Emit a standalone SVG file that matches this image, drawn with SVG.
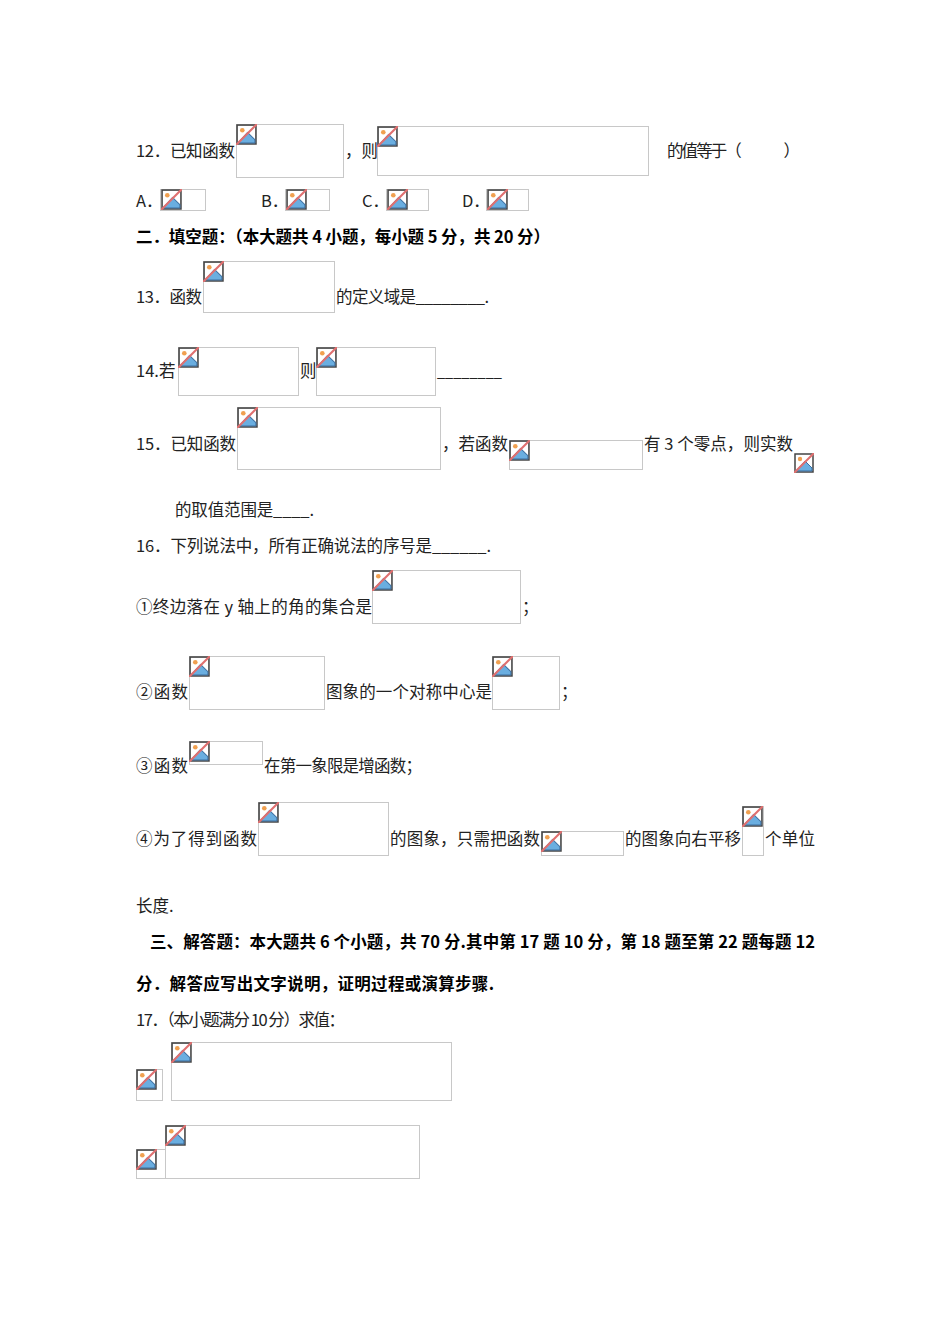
<svg xmlns="http://www.w3.org/2000/svg" xmlns:xlink="http://www.w3.org/1999/xlink" width="950" height="1344" viewBox="0 0 950 1344">
<style>
text{font-family:"Noto Sans CJK SC","Liberation Serif",serif;font-size:16.5px;fill:#222}
.b{font-weight:bold;fill:#000}
.box{fill:none;stroke:#c8c8c8;stroke-width:1}
</style>
<defs>
<symbol id="ic" viewBox="0 0 20 20">
<rect x="1" y="1" width="18" height="18" fill="#fff" stroke="#444" stroke-width="1.5"/>
<circle cx="6" cy="6" r="2.2" fill="#f0a050"/>
<path d="M2 18 L11 8 L18 15 L18 18 Z" fill="#6aaee0" stroke="#3a6ea0" stroke-width="1"/>
<line x1="0" y1="20" x2="20" y2="0" stroke="#e07070" stroke-width="2"/>
</symbol>
</defs>
<rect width="950" height="1344" fill="#fff"/>
<g id="q12">
<text x="136" y="157" textLength="99" lengthAdjust="spacing">12．已知函数</text>
<rect class="box" x="236.5" y="124.5" width="107" height="53"/><use href="#ic" x="236" y="124" width="21" height="21"/>
<text x="345" y="157">，则</text>
<rect class="box" x="377.5" y="126.5" width="271" height="49"/><use href="#ic" x="377" y="126" width="21" height="21"/>
<text x="667" y="157" textLength="133" lengthAdjust="spacing">的值等于（　　　）</text>
<text x="136" y="207">A．</text><rect class="box" x="160.5" y="189.5" width="45" height="21"/><use href="#ic" x="161" y="189" width="21" height="21"/>
<text x="261" y="207">B．</text><rect class="box" x="285.5" y="189.5" width="44" height="21"/><use href="#ic" x="286" y="189" width="21" height="21"/>
<text x="362" y="207">C．</text><rect class="box" x="386.5" y="189.5" width="42" height="21"/><use href="#ic" x="387" y="189" width="21" height="21"/>
<text x="462" y="207">D．</text><rect class="box" x="486.5" y="189.5" width="42" height="21"/><use href="#ic" x="487" y="189" width="21" height="21"/>
</g>
<g id="sec2"><text class="b" x="136" y="243" textLength="414" lengthAdjust="spacing">二．填空题：（本大题共 4 小题，每小题 5 分，共 20 分）</text></g>
<g id="q13">
<text x="136" y="303" textLength="66" lengthAdjust="spacing">13．函数</text>
<rect class="box" x="203.5" y="261.5" width="131" height="51"/><use href="#ic" x="203" y="261" width="21" height="21"/>
<text x="336" y="303" textLength="153" lengthAdjust="spacing">的定义域是________.</text>
</g>
<g id="q14">
<text x="136" y="377">14.若</text>
<rect class="box" x="178.5" y="347.5" width="120" height="48"/><use href="#ic" x="178" y="347" width="21" height="21"/>
<text x="300" y="377">则</text>
<rect class="box" x="316.5" y="347.5" width="119" height="48"/><use href="#ic" x="316" y="347" width="21" height="21"/>
<text x="437" y="377" textLength="65" lengthAdjust="spacingAndGlyphs">________</text>
</g>
<g id="q15">
<text x="136" y="450" textLength="100" lengthAdjust="spacing">15．已知函数</text>
<rect class="box" x="237.5" y="407.5" width="203" height="62"/><use href="#ic" x="237" y="407" width="21" height="21"/>
<text x="442" y="450" textLength="66" lengthAdjust="spacing">，若函数</text>
<rect class="box" x="509.5" y="440.5" width="133" height="29"/><use href="#ic" x="509" y="440" width="21" height="21"/>
<text x="644" y="450" textLength="149" lengthAdjust="spacing">有 3 个零点，则实数</text>
<use href="#ic" x="794" y="453" width="20" height="20"/>
<text x="175" y="516" textLength="139" lengthAdjust="spacing">的取值范围是____.</text>
</g>
<g id="q16">
<text x="136" y="552" textLength="355" lengthAdjust="spacing">16．下列说法中，所有正确说法的序号是______.</text>
<text x="136" y="613" textLength="236" lengthAdjust="spacing">①终边落在 y 轴上的角的集合是</text>
<rect class="box" x="372.5" y="570.5" width="148" height="53"/><use href="#ic" x="372" y="570" width="21" height="21"/>
<text x="522" y="613">；</text>
<text x="136" y="698" textLength="52" lengthAdjust="spacing">②函数</text>
<rect class="box" x="189.5" y="656.5" width="135" height="53"/><use href="#ic" x="189" y="656" width="21" height="21"/>
<text x="326" y="698" textLength="166" lengthAdjust="spacing">图象的一个对称中心是</text>
<rect class="box" x="492.5" y="656.5" width="67" height="53"/><use href="#ic" x="492" y="656" width="21" height="21"/>
<text x="561" y="698">；</text>
<text x="136" y="772" textLength="52" lengthAdjust="spacing">③函数</text>
<rect class="box" x="189.5" y="741.5" width="73" height="23"/><use href="#ic" x="189" y="741" width="21" height="21"/>
<text x="264" y="772" textLength="158" lengthAdjust="spacing">在第一象限是增函数；</text>
<text x="136" y="845" textLength="121" lengthAdjust="spacing">④为了得到函数</text>
<rect class="box" x="258.5" y="802.5" width="130" height="53"/><use href="#ic" x="258" y="802" width="21" height="21"/>
<text x="390" y="845" textLength="150" lengthAdjust="spacing">的图象，只需把函数</text>
<rect class="box" x="541.5" y="831.5" width="82" height="24"/><use href="#ic" x="541" y="831" width="21" height="21"/>
<text x="625" y="845" textLength="116" lengthAdjust="spacing">的图象向右平移</text>
<rect class="box" x="742.5" y="806.5" width="21" height="49"/><use href="#ic" x="742" y="806" width="21" height="21"/>
<text x="765" y="845" textLength="50" lengthAdjust="spacing">个单位</text>
<text x="136" y="912">长度.</text>
</g>
<g id="sec3">
<text class="b" x="150" y="948" textLength="665" lengthAdjust="spacing">三、解答题：本大题共 6 个小题，共 70 分.其中第 17 题 10 分，第 18 题至第 22 题每题 12</text>
<text class="b" x="136" y="990" textLength="358" lengthAdjust="spacing">分．解答应写出文字说明，证明过程或演算步骤.</text>
</g>
<g id="q17">
<text x="136" y="1026" textLength="209" lengthAdjust="spacing">17．（本小题满分 10 分）求值：</text>
<rect class="box" x="136.5" y="1069.5" width="26" height="31"/><use href="#ic" x="136" y="1069" width="21" height="21"/>
<rect class="box" x="171.5" y="1042.5" width="280" height="58"/><use href="#ic" x="171" y="1042" width="21" height="21"/>
<rect class="box" x="136.5" y="1149.5" width="29" height="29"/><use href="#ic" x="136" y="1149" width="21" height="21"/>
<rect class="box" x="165.5" y="1125.5" width="254" height="53"/><use href="#ic" x="165" y="1125" width="21" height="21"/>
</g>
</svg>
